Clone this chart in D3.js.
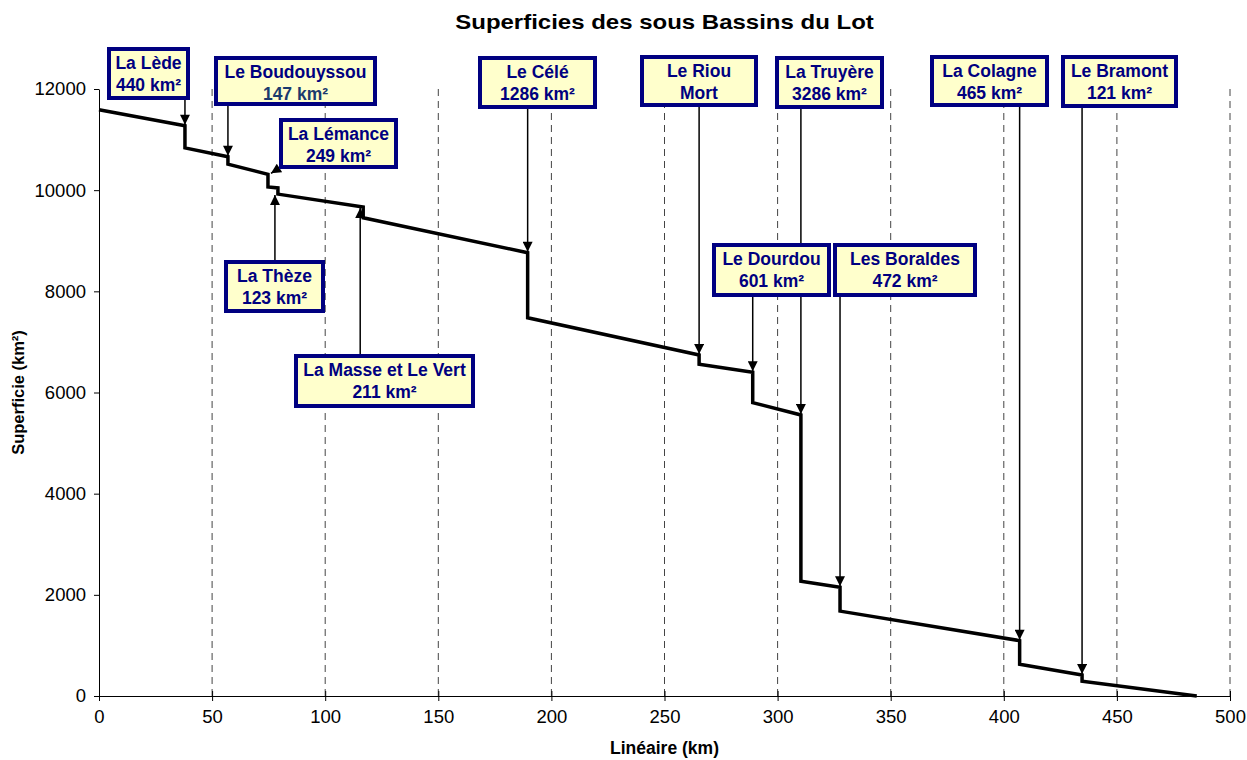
<!DOCTYPE html>
<html lang="fr">
<head>
<meta charset="utf-8">
<title>Superficies des sous Bassins du Lot</title>
<script src="https://cdn.jsdelivr.net/npm/d3@7"></script>
<style>
  html, body { margin: 0; padding: 0; background: #fff; }
  svg { display: block; font-family: "Liberation Sans", Arial, sans-serif; }
</style>
</head>
<body>
<svg id="chart" width="1247" height="760"></svg>
<script>
// Surface drainée du Lot le long de son linéaire (0 = confluence avec la Garonne)
const surfaceDepart = 11590;          // km² à l'aval (km 0)
const longueurTotale = 485.3;         // km, source du Lot (surface nulle)

// Affluents, de l'aval vers l'amont
const affluents = ["La Lède", "Le Boudouyssou", "La Lémance", "La Thèze", "La Masse et Le Vert",
  "Le Célé", "Le Riou Mort", "Le Dourdou", "La Truyère", "Les Boraldes", "La Colagne", "Le Bramont"];
const confluenceKm = [38.0, 57.0, 74.7, 79.1, 116.8, 189.5, 265.3, 289.0, 310.3, 327.6, 407.0, 434.6];
// Surface du Lot juste à l'aval de chaque confluence
const surfaceAval = [11275, 10662, 10314, 10045, 9666, 8764, 6742, 6400, 5556, 2150, 1094, 415];
// Surface de chaque sous-bassin
const surfaceAffluent = [440, 147, 249, 123, 211, 1286, 184, 601, 3286, 472, 465, 121];
// Texte des étiquettes
const etiquettes = [
  ["La Lède", "440 km²"], ["Le Boudouyssou", "147 km²"], ["La Lémance", "249 km²"],
  ["La Thèze", "123 km²"], ["La Masse et Le Vert", "211 km²"], ["Le Célé", "1286 km²"],
  ["Le Riou", "Mort"], ["Le Dourdou", "601 km²"], ["La Truyère", "3286 km²"],
  ["Les Boraldes", "472 km²"], ["La Colagne", "465 km²"], ["Le Bramont", "121 km²"]
];

const xTicks = [0, 50, 100, 150, 200, 250, 300, 350, 400, 450, 500];
const yTicks = [0, 2000, 4000, 6000, 8000, 10000, 12000];

// Mise en page des cartouches (pixels) : gauche, haut, droite, bas, côté de la flèche
const cartouches = [
  { x0: 107, y0: 47,  x1: 190, y1: 100, sens: "bas" },
  { x0: 214, y0: 56,  x1: 377, y1: 106, sens: "bas" },
  { x0: 279, y0: 118, x1: 398, y1: 169, sens: "diag" },
  { x0: 224, y0: 260, x1: 325, y1: 313, sens: "haut", pointe: "amont" },
  { x0: 294, y0: 354, x1: 475, y1: 408, sens: "haut", pointe: "aval" },
  { x0: 478, y0: 56,  x1: 597, y1: 109, sens: "bas" },
  { x0: 640, y0: 55,  x1: 758, y1: 107, sens: "bas" },
  { x0: 712, y0: 243, x1: 831, y1: 297, sens: "bas" },
  { x0: 775, y0: 56,  x1: 884, y1: 109, sens: "bas" },
  { x0: 833, y0: 243, x1: 977, y1: 297, sens: "bas" },
  { x0: 930, y0: 55,  x1: 1049, y1: 107, sens: "bas" },
  { x0: 1061, y0: 55, x1: 1178, y1: 108, sens: "bas" }
];

const svg = d3.select("#chart");
const plot = { left: 99, right: 1230, top: 89, bottom: 696 };

const x = d3.scaleLinear().domain([0, 500]).range([plot.left, plot.right]);
const y = d3.scaleLinear().domain([0, 12000]).range([plot.bottom, plot.top]);

// Titre (légèrement élargi)
svg.append("text")
  .attr("transform", `translate(${(plot.left + plot.right) / 2},22) scale(1.2,1)`)
  .attr("dy", "0.35em")
  .attr("text-anchor", "middle")
  .attr("font-size", 20).attr("font-weight", "bold")
  .text("Superficies des sous Bassins du Lot");

// Quadrillage vertical en tirets
svg.append("g")
  .selectAll("line")
  .data(xTicks.filter(d => d > 0))
  .join("line")
  .attr("x1", d => x(d)).attr("x2", d => x(d))
  .attr("y1", plot.top).attr("y2", plot.bottom)
  .attr("stroke", "#444").attr("stroke-width", 1)
  .attr("stroke-dasharray", "7,5");

// Axe X (graduations traversant l'axe)
const gx = svg.append("g")
  .attr("transform", `translate(0,${plot.bottom})`)
  .call(d3.axisBottom(x).tickValues(xTicks).tickSize(5).tickSizeOuter(0).tickPadding(9));
gx.selectAll(".tick line").attr("y1", -5);
gx.select(".domain").attr("stroke", "#000");
gx.selectAll("text").attr("font-size", 18.5).attr("font-family", "Liberation Sans, Arial, sans-serif");

// Axe Y
const gy = svg.append("g")
  .attr("transform", `translate(${plot.left},0)`)
  .call(d3.axisLeft(y).tickValues(yTicks).tickFormat(d3.format("d")).tickSize(5).tickSizeOuter(0).tickPadding(8));
gy.selectAll("text").attr("font-size", 18.5).attr("font-family", "Liberation Sans, Arial, sans-serif");

// Titres des axes
svg.append("text")
  .attr("x", (plot.left + plot.right) / 2).attr("y", 748)
  .attr("dy", "0.35em")
  .attr("text-anchor", "middle")
  .attr("font-size", 17.5).attr("font-weight", "bold")
  .text("Linéaire (km)");
svg.append("text")
  .attr("transform", `translate(18,${(plot.top + plot.bottom) / 2}) rotate(-90)`)
  .attr("dy", "0.35em")
  .attr("text-anchor", "middle")
  .attr("font-size", 16.5).attr("font-weight", "bold")
  .text("Superficie (km²)");

// Profil en escalier : chaque confluence retire la surface de l'affluent
const profil = [[0, surfaceDepart]];
confluenceKm.forEach((km, i) => {
  profil.push([km, surfaceAval[i]]);
  profil.push([km, surfaceAval[i] - surfaceAffluent[i]]);
});
profil.push([longueurTotale, 0]);

svg.append("path")
  .datum(profil)
  .attr("d", d3.line().x(d => x(d[0])).y(d => y(d[1])))
  .attr("fill", "none")
  .attr("stroke", "#000")
  .attr("stroke-width", 3.5)
  .attr("stroke-linejoin", "miter");

// Pointe de flèche
svg.append("defs").append("marker")
  .attr("id", "fleche")
  .attr("viewBox", "0 0 10 10")
  .attr("refX", 10).attr("refY", 5)
  .attr("markerUnits", "userSpaceOnUse")
  .attr("markerWidth", 11).attr("markerHeight", 10)
  .attr("orient", "auto")
  .append("path")
  .attr("d", "M0,0 L10,5 L0,10 Z")
  .attr("fill", "#000");

// Flèches des cartouches vers les confluences
const fleches = svg.append("g");
cartouches.forEach((c, i) => {
  const km = confluenceKm[i];
  let x1, y1, x2, y2;
  if (c.sens === "bas") {
    x1 = x2 = x(km);
    y1 = c.y1;
    y2 = y(surfaceAval[i]) - 1;
  } else if (c.sens === "haut") {
    x1 = x2 = x(km) - 3;
    y1 = c.y0;
    y2 = c.pointe === "amont" ? y(surfaceAval[i] - surfaceAffluent[i]) + 1 : y(surfaceAval[i]) + 1;
  } else {
    x1 = c.x0 + 2; y1 = c.y1 - 2;
    x2 = x(km) + 3; y2 = y(surfaceAval[i]) - 1;
  }
  fleches.append("line")
    .attr("x1", x1).attr("y1", y1).attr("x2", x2).attr("y2", y2)
    .attr("stroke", "#000").attr("stroke-width", 1.5)
    .attr("marker-end", "url(#fleche)");
});

// Cartouches
const boites = svg.append("g")
  .selectAll("g")
  .data(cartouches)
  .join("g");

boites.append("rect")
  .attr("x", d => d.x0 + 2).attr("y", d => d.y0 + 2)
  .attr("width", d => d.x1 - d.x0 - 4).attr("height", d => d.y1 - d.y0 - 4)
  .attr("fill", "#FFFFCC")
  .attr("stroke", "#000080").attr("stroke-width", 4);

boites.each(function (d, i) {
  const g = d3.select(this);
  const cx = (d.x0 + d.x1) / 2;
  etiquettes[i].forEach((ligne, j) => {
    g.append("text")
      .attr("x", cx)
      .attr("y", d.y0 + 16.3 + j * 22)
      .attr("dy", "0.35em")
      .attr("text-anchor", "middle")
      .attr("font-size", 17.5).attr("font-weight", "bold")
      .attr("fill", (i === 1 && j === 1) ? "#1B3A6E" : "#000080")
      .text(ligne);
  });
});
</script>
</body>
</html>
